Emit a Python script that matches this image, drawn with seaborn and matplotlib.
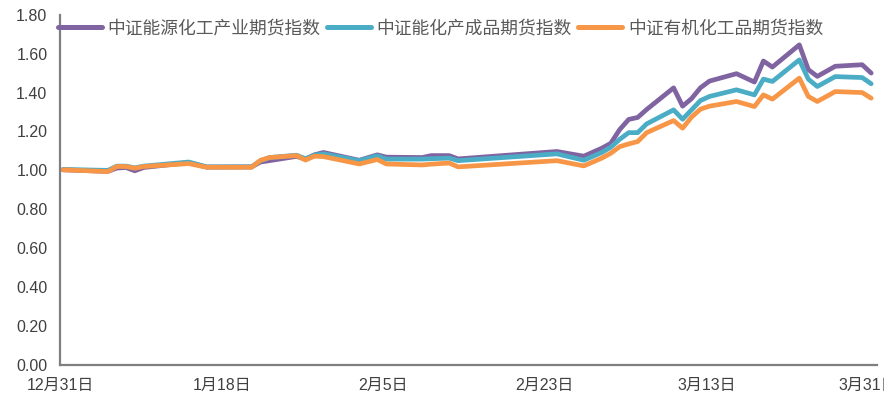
import pandas as pd
import numpy as np
import matplotlib
matplotlib.use("Agg")
import matplotlib.pyplot as plt
from matplotlib.lines import Line2D
import seaborn as sns

# Data (index values, base = 1.00 on 12/31)
dates = [
    "2021-12-31", "2022-01-05", "2022-01-06", "2022-01-07", "2022-01-08",
    "2022-01-09", "2022-01-14", "2022-01-16", "2022-01-21", "2022-01-22",
    "2022-01-23", "2022-01-26", "2022-01-27", "2022-01-28", "2022-01-29",
    "2022-02-02", "2022-02-04", "2022-02-05", "2022-02-09", "2022-02-10",
    "2022-02-12", "2022-02-13", "2022-02-24", "2022-02-27", "2022-03-01",
    "2022-03-02", "2022-03-03", "2022-03-04", "2022-03-05", "2022-03-06",
    "2022-03-09", "2022-03-10", "2022-03-11", "2022-03-12", "2022-03-13",
    "2022-03-16", "2022-03-18", "2022-03-19", "2022-03-20", "2022-03-23",
    "2022-03-24", "2022-03-25", "2022-03-27", "2022-03-30", "2022-03-31",
]
energy_chem = [
    1.003, 0.995, 1.012, 1.015, 0.998, 1.015, 1.040, 1.017, 1.018, 1.043,
    1.050, 1.072, 1.058, 1.080, 1.092, 1.052, 1.080, 1.068, 1.066, 1.076,
    1.076, 1.059, 1.097, 1.073, 1.114, 1.139, 1.210, 1.262, 1.272, 1.313,
    1.424, 1.330, 1.369, 1.425, 1.459, 1.497, 1.454, 1.562, 1.531, 1.645,
    1.518, 1.483, 1.535, 1.543, 1.500,
]
chem_products = [
    1.005, 1.000, 1.022, 1.022, 1.013, 1.022, 1.043, 1.018, 1.018, 1.050,
    1.066, 1.078, 1.060, 1.078, 1.085, 1.050, 1.075, 1.058, 1.058, 1.060,
    1.063, 1.050, 1.085, 1.052, 1.092, 1.119, 1.160, 1.194, 1.194, 1.239,
    1.311, 1.263, 1.311, 1.359, 1.380, 1.414, 1.388, 1.469, 1.457, 1.568,
    1.469, 1.431, 1.482, 1.477, 1.445,
]
organic_chem = [
    1.003, 0.994, 1.020, 1.020, 1.011, 1.020, 1.035, 1.016, 1.016, 1.052,
    1.066, 1.076, 1.053, 1.073, 1.071, 1.033, 1.056, 1.033, 1.028, 1.032,
    1.038, 1.018, 1.050, 1.023, 1.063, 1.088, 1.122, 1.136, 1.148, 1.194,
    1.256, 1.217, 1.274, 1.315, 1.330, 1.354, 1.328, 1.388, 1.366, 1.474,
    1.380, 1.354, 1.405, 1.400, 1.371,
]

names = ["中证能源化工产业期货指数", "中证能化产成品期货指数", "中证有机化工品期货指数"]
colors = ["#8064A2", "#4BACC6", "#F79646"]
y_ticks = [0.0, 0.2, 0.4, 0.6, 0.8, 1.0, 1.2, 1.4, 1.6, 1.8]
x_tick_dates = ["2021-12-31", "2022-01-18", "2022-02-05", "2022-02-23", "2022-03-13", "2022-03-31"]

# points sit a little right of the day ticks in the original
wide = pd.DataFrame({
    "date": pd.to_datetime(dates) + pd.Timedelta(hours=8),
    names[0]: energy_chem,
    names[1]: chem_products,
    names[2]: organic_chem,
})
df = wide.melt(id_vars="date", var_name="index", value_name="value")

sns.set_theme(style="white")
plt.rcParams["font.family"] = ["Liberation Sans", "Noto Sans CJK SC", "DejaVu Sans"]
plt.rcParams["lines.solid_joinstyle"] = "round"
plt.rcParams["lines.solid_capstyle"] = "round"

fig = plt.figure(figsize=(8.84, 4.08), dpi=100)
ax = fig.add_axes([60 / 884, 1 - 365 / 408, (876.7 - 60) / 884, (365 - 14.7) / 408])

sns.lineplot(data=df, x="date", y="value", hue="index", hue_order=names,
             palette=colors, linewidth=3.4, ax=ax, legend=False)

start = pd.Timestamp("2021-12-31")
ax.set_xlim(start, start + pd.Timedelta(days=90.95))
ax.set_ylim(0, 1.8)
ax.set_yticks(y_ticks)
ax.set_yticklabels([f"{v:.2f}" for v in y_ticks])
xt = pd.to_datetime(x_tick_dates)
ax.set_xticks(xt)
ax.set_xticklabels([f"{d.month}月{d.day}日" for d in xt])
ax.set_xlabel("")
ax.set_ylabel("")

for side in ["top", "right"]:
    ax.spines[side].set_visible(False)
for side in ["left", "bottom"]:
    ax.spines[side].set_color("#7f7f7f")
    ax.spines[side].set_linewidth(1.6)
ax.tick_params(axis="both", direction="out", length=5, width=1.6, color="#7f7f7f",
               labelcolor="#404040", labelsize=11.5, pad=4)

handles = [Line2D([0], [0], color=c, linewidth=3.6, solid_capstyle="round") for c in colors]
leg = fig.legend(handles, names, loc="center left", bbox_to_anchor=(58 / 884, 1 - 28 / 408),
                 bbox_transform=fig.transFigure, ncol=3, frameon=False, borderpad=0,
                 borderaxespad=0, handlelength=2.45, handletextpad=0.35, columnspacing=0.35,
                 prop={"family": ["Noto Sans CJK SC"], "size": 12.8, "weight": "light"})
for t in leg.get_texts():
    t.set_color("#595959")

fig.savefig("out.png", dpi=100)
